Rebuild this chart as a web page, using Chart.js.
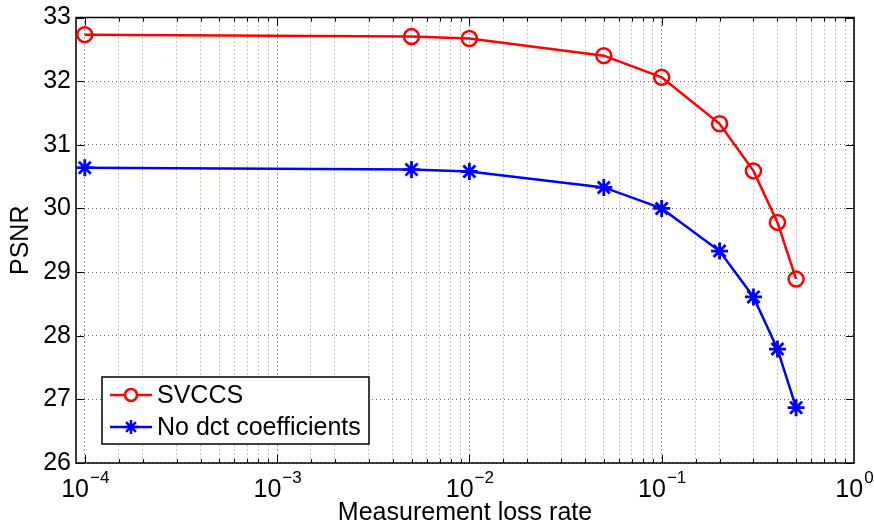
<!DOCTYPE html>
<html>
<head>
<meta charset="utf-8">
<script src="https://cdn.jsdelivr.net/npm/chart.js@4.4.0/dist/chart.umd.min.js"></script>
<style>
  html, body { margin: 0; padding: 0; background: #fff; }
  #wrap { width: 874px; height: 526px; }
</style>
</head>
<body>
<div id="wrap"><canvas id="myChart"></canvas></div>
<script>
// measurement loss rates (x axis, log scale)
const lossRates = [0.0001, 0.005, 0.01, 0.05, 0.1, 0.2, 0.3, 0.4, 0.5]
// PSNR
const svccsPsnr = [32.73, 32.70, 32.67, 32.40, 32.06, 31.33, 30.59, 29.78, 28.89]
const noDctPsnr = [30.64, 30.61, 30.58, 30.33, 30.00, 29.33, 28.61, 27.79, 26.87]
const seriesNames = ['SVCCS', 'No dct coefficients']
const xRange = [0.00009, 1]
const yRange = [26, 33]
const FONT = "'Liberation Sans', Arial, Helvetica, sans-serif"

function toPoints(xs, ys) {
  return xs.map(function (x, i) { return {x: x, y: ys[i]} })
}

function isPowerOfTen(v) {
  const e = Math.log10(v)
  return Math.abs(e - Math.round(e)) < 1e-6
}

// box, inward ticks and 10^n labels like matlab
const axesBox = {
  id: 'axesBox',
  beforeDatasetsDraw(chart) {
    const ctx = chart.ctx
    const a = chart.chartArea
    const xs = chart.scales.x
    const ys = chart.scales.y
    ctx.save()
    ctx.strokeStyle = '#000'
    ctx.lineWidth = 1
    xs.ticks.forEach(function (t) {
      const px = Math.round(xs.getPixelForValue(t.value)) + 0.5
      if (px < a.left + 1 || px > a.right - 1) return
      const len = isPowerOfTen(t.value) ? 8 : 4
      ctx.beginPath()
      ctx.moveTo(px, a.bottom); ctx.lineTo(px, a.bottom - len)
      ctx.moveTo(px, a.top); ctx.lineTo(px, a.top + len)
      ctx.stroke()
    })
    ys.ticks.forEach(function (t) {
      const py = Math.round(ys.getPixelForValue(t.value)) + 0.5
      ctx.beginPath()
      ctx.moveTo(a.left, py); ctx.lineTo(a.left + 8, py)
      ctx.moveTo(a.right, py); ctx.lineTo(a.right - 8, py)
      ctx.stroke()
    })
    ctx.lineWidth = 1.5
    ctx.strokeRect(a.left, a.top, a.right - a.left, a.bottom - a.top)
    ctx.restore()
  },
  afterDraw(chart) {
    const ctx = chart.ctx
    const a = chart.chartArea
    const xs = chart.scales.x
    ctx.save()
    ctx.fillStyle = '#000'
    ctx.textBaseline = 'alphabetic'
    ctx.textAlign = 'left'
    xs.ticks.forEach(function (t) {
      if (!isPowerOfTen(t.value)) return
      const e = Math.round(Math.log10(t.value))
      const expText = (e < 0 ? '\u2212' : '') + Math.abs(e)
      ctx.font = '25px ' + FONT
      const wBase = ctx.measureText('10').width
      ctx.font = '17px ' + FONT
      const wExp = ctx.measureText(expText).width
      const x0 = xs.getPixelForValue(t.value) - (wBase + wExp) / 2
      ctx.font = '25px ' + FONT
      ctx.fillText('10', x0, a.bottom + 34)
      ctx.font = '17px ' + FONT
      ctx.fillText(expText, x0 + wBase + 1, a.bottom + 20)
    })
    ctx.restore()
  }
}

// legend box inside the plot, lower left
const insideLegend = {
  id: 'insideLegend',
  afterDraw(chart) {
    const ctx = chart.ctx
    const a = chart.chartArea
    const left = a.left + 26, top = a.bottom - 86
    const w = 267, h = 67
    ctx.save()
    ctx.fillStyle = '#fff'
    ctx.fillRect(left, top, w, h)
    ctx.strokeStyle = '#000'
    ctx.lineWidth = 1.5
    ctx.strokeRect(left, top, w, h)
    chart.data.datasets.forEach(function (ds, i) {
      const cy = top + 18 + i * 32
      ctx.strokeStyle = ds.borderColor
      ctx.lineWidth = ds.borderWidth
      ctx.beginPath()
      ctx.moveTo(left + 8, cy); ctx.lineTo(left + 50, cy)
      ctx.stroke()
      Chart.helpers.drawPoint(ctx, {
        pointStyle: ds.pointStyle, radius: ds.pointRadius - 1.5, borderWidth: ds.pointBorderWidth, rotation: 0
      }, left + 29, cy)
      ctx.fillStyle = '#000'
      ctx.font = '25px ' + FONT
      ctx.textBaseline = 'middle'
      ctx.textAlign = 'left'
      ctx.fillText(ds.label, left + 55, cy + 1)
    })
    ctx.restore()
  }
}

function gridColor(c) {
  if (c.tick && isPowerOfTen(c.tick.value)) return 'rgba(0,0,0,0.8)'
  return 'rgba(0,0,0,0.45)'
}

function drawChart() {
  const ctx = document.getElementById('myChart').getContext('2d')
  new Chart(ctx, {
    type: 'line',
    data: {
      datasets: [{
        label: seriesNames[0],
        data: toPoints(lossRates, svccsPsnr),
        borderColor: '#ff0000',
        backgroundColor: 'rgba(0,0,0,0)',
        borderWidth: 2.5,
        pointStyle: 'circle',
        pointRadius: 7.5,
        pointBorderWidth: 2.5,
        pointBorderColor: '#ff0000',
        pointBackgroundColor: 'rgba(0,0,0,0)',
        tension: 0
      }, {
        label: seriesNames[1],
        data: toPoints(lossRates, noDctPsnr),
        borderColor: '#0000ff',
        backgroundColor: 'rgba(0,0,0,0)',
        borderWidth: 2.5,
        pointStyle: 'star',
        pointRadius: 8.5,
        pointBorderWidth: 2.8,
        pointBorderColor: '#0000ff',
        pointBackgroundColor: '#0000ff',
        tension: 0
      }]
    },
    options: {
      responsive: true,
      maintainAspectRatio: false,
      animation: false,
      layout: {padding: {top: 13, right: 20, left: 0, bottom: 0}},
      plugins: {legend: {display: false}, tooltip: {enabled: false}},
      scales: {
        x: {
          type: 'logarithmic',
          min: xRange[0],
          max: xRange[1],
          border: {display: false, dash: [1, 3]},
          grid: {color: gridColor, lineWidth: 1, drawTicks: false},
          ticks: {display: false, autoSkip: false},
          title: {display: true, text: 'Measurement loss rate', color: '#000',
            font: {family: FONT, size: 25, lineHeight: 1}, padding: {top: 0, bottom: 0}},
          afterFit: function (s) { s.height = 63 }
        },
        y: {
          min: yRange[0],
          max: yRange[1],
          border: {display: false, dash: [1, 3]},
          grid: {color: 'rgba(0,0,0,0.6)', lineWidth: 1, drawTicks: false},
          ticks: {stepSize: 1, padding: 5, color: '#000', font: {family: FONT, size: 25, lineHeight: 1}},
          title: {display: true, text: 'PSNR', color: '#000',
            font: {family: FONT, size: 25, lineHeight: 1}, padding: {top: 9, bottom: 0}},
          afterFit: function (s) { s.width = 76 }
        }
      }
    },
    plugins: [axesBox, insideLegend]
  })
}

drawChart()
</script>
</body>
</html>
